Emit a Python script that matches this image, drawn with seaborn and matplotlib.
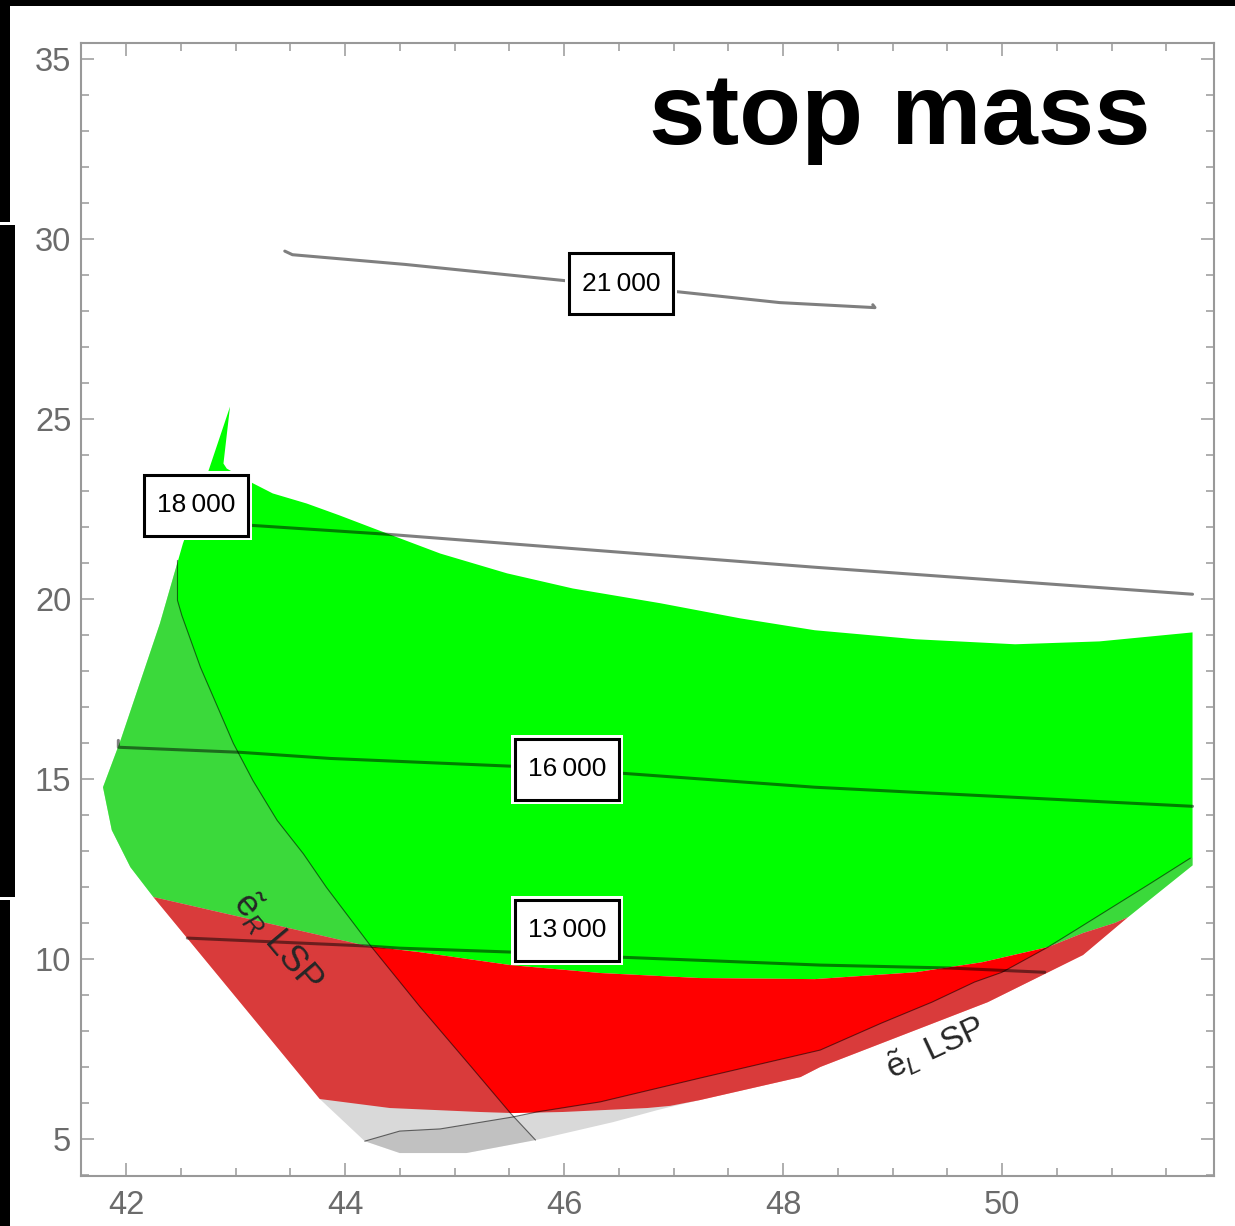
import matplotlib
matplotlib.use("Agg")
import numpy as np
import pandas as pd
import matplotlib.pyplot as plt
from matplotlib.patches import Polygon, Rectangle
from matplotlib.ticker import MultipleLocator
from matplotlib.transforms import IdentityTransform, ScaledTranslation
import seaborn as sns

# ---------------------------------------------------------------- data
# outline of the whole scanned parameter domain
domain_x = [42.95, 42.89, 42.92, 43.16, 43.34, 43.65, 43.95, 44.26, 44.87, 45.48, 46.08,
            46.88, 47.61, 48.29, 49.21, 50.12, 50.89, 51.74, 51.74, 51.15, 50.74,
            49.87, 48.34, 48.16, 47.24, 46.97, 46.85, 46.45, 45.74, 45.11, 44.50,
            44.18, 43.77, 42.25, 42.04, 41.87, 41.79, 41.95, 42.31, 42.52, 42.76]
domain_y = [25.34, 23.76, 23.62, 23.21, 22.93, 22.65, 22.32, 21.96, 21.26, 20.71, 20.29,
            19.88, 19.46, 19.13, 18.88, 18.74, 18.82, 19.07, 12.60, 11.16, 10.11,
            8.80, 7.00, 6.72, 6.08, 5.89, 5.80, 5.47, 4.97, 4.61, 4.61,
            4.94, 6.11, 11.72, 12.55, 13.58, 14.77, 16.07, 19.32, 21.54, 23.62]

# green region
green_x = [42.95, 42.89, 42.92, 43.16, 43.34, 43.65, 43.95, 44.26, 44.87, 45.48, 46.08,
           46.88, 47.61, 48.29, 49.21, 50.12, 50.89, 51.74, 51.74, 51.15, 51.03,
           50.74, 50.42, 49.82, 49.21, 48.29, 47.24, 46.33, 45.51, 44.68, 44.20,
           42.25, 42.04, 41.87, 41.79, 41.95, 42.31, 42.52, 42.76]
green_y = [25.34, 23.76, 23.62, 23.21, 22.93, 22.65, 22.32, 21.96, 21.26, 20.71, 20.29,
           19.88, 19.46, 19.13, 18.88, 18.74, 18.82, 19.07, 12.60, 11.16, 11.00,
           10.72, 10.33, 9.91, 9.63, 9.44, 9.47, 9.61, 9.83, 10.19, 10.36,
           11.72, 12.55, 13.58, 14.77, 16.07, 19.32, 21.54, 23.62]

# red region
red_x = [42.25, 44.20, 44.68, 45.51, 46.33, 47.24, 48.29, 49.21, 49.82, 50.42,
         50.74, 51.03, 51.15, 50.74, 49.87, 48.34, 48.16, 47.24, 46.97, 46.76,
         45.99, 45.53, 45.23, 44.41, 43.77]
red_y = [11.72, 10.36, 10.19, 9.83, 9.61, 9.47, 9.44, 9.63, 9.91, 10.33,
         10.72, 11.00, 11.16, 10.11, 8.80, 7.00, 6.72, 6.08, 5.92, 5.86,
         5.75, 5.72, 5.75, 5.86, 6.11]

# boundary where the right-handed selectron becomes the LSP
eR_x = [42.47, 42.47, 42.51, 42.68, 42.98, 43.16, 43.38, 43.62, 43.83, 44.23, 44.68, 45.14, 45.51, 45.74]
eR_y = [21.07, 19.96, 19.54, 18.10, 15.99, 14.95, 13.85, 12.92, 11.99, 10.38, 8.69, 7.05, 5.72, 4.97]

# boundary where the left-handed selectron becomes the LSP
eL_x = [44.18, 44.50, 44.87, 45.53, 45.75, 46.33, 47.24, 48.34, 48.90, 49.36,
        49.75, 50.00, 50.42, 50.67, 51.33, 51.72]
eL_y = [4.94, 5.22, 5.28, 5.61, 5.75, 6.03, 6.69, 7.47, 8.22, 8.80,
        9.36, 9.63, 10.33, 10.80, 12.05, 12.80]

# stop-mass contours
c21000_x = [43.45, 43.52, 44.55, 46.04, 47.01, 47.97, 48.84, 48.82]
c21000_y = [29.66, 29.56, 29.29, 28.83, 28.54, 28.23, 28.09, 28.17]
c18000_x = [42.60, 43.16, 44.41, 46.88, 48.29, 51.74]
c18000_y = [22.15, 22.04, 21.79, 21.21, 20.88, 20.13]
c16000_x = [41.93, 41.93, 43.04, 43.86, 45.55, 46.52, 48.29, 51.74]
c16000_y = [16.07, 15.88, 15.74, 15.57, 15.35, 15.16, 14.77, 14.24]
c13000_x = [42.56, 44.20, 44.50, 45.53, 46.51, 48.34, 49.51, 50.39]
c13000_y = [10.58, 10.36, 10.30, 10.19, 10.05, 9.83, 9.75, 9.63]

contour_levels = [21000, 18000, 16000, 13000]
label_x = [46.52, 42.64, 46.03, 46.03]
label_y = [28.76, 22.60, 15.27, 10.80]

x_major = [42, 44, 46, 48, 50]
y_major = [5, 10, 15, 20, 25, 30, 35]

# ---------------------------------------------------------------- style
sns.set_theme(style="ticks")
plt.rcParams["font.family"] = ["Liberation Sans", "DejaVu Sans"]
plt.rcParams["mathtext.fontset"] = "custom"
plt.rcParams["mathtext.rm"] = "Liberation Sans"
plt.rcParams["mathtext.it"] = "Liberation Sans:italic"
plt.rcParams["mathtext.bf"] = "Liberation Sans:bold"

W, H = 1235, 1226
fig = plt.figure(figsize=(W / 100, H / 100), dpi=100)
fig.patch.set_facecolor("white")
ax = fig.add_axes([81 / W, 50 / H, 1133 / W, 1133 / H])
ax.set_xlim(41.589, 51.936)
ax.set_ylim(3.972, 35.44)

# regions
ax.fill(green_x, green_y, color="#00ff00", lw=0, zorder=1)
ax.fill(red_x, red_y, color="#ff0000", lw=0, zorder=1)

domain = Polygon(np.column_stack([domain_x, domain_y]), closed=True,
                 fc="none", ec="none", transform=ax.transData)
ax.add_patch(domain)

shade = dict(fc="#9c9c9c", alpha=0.384, ec="none", zorder=2)
eR_shade = Polygon(np.column_stack([[eR_x[0]] + eR_x + [eR_x[-1], 41.0, 41.0],
                                    [30.0] + eR_y + [3.0, 3.0, 30.0]]),
                   closed=True, **shade)
eL_shade = Polygon(np.column_stack([[43.5] + eL_x + [52.5, 52.5, 43.5],
                                    [eL_y[0]] + eL_y + [eL_y[-1], 3.0, 3.0]]),
                   closed=True, **shade)
for p in (eR_shade, eL_shade):
    ax.add_patch(p)
    p.set_clip_path(domain)

# LSP boundaries
lsp = pd.concat([
    pd.DataFrame({"x": eR_x, "y": eR_y, "curve": "eR"}),
    pd.DataFrame({"x": eL_x, "y": eL_y, "curve": "eL"}),
])
sns.lineplot(data=lsp, x="x", y="y", units="curve", estimator=None, sort=False,
             color="black", alpha=0.55, lw=0.8, ax=ax, legend=False, zorder=3)

# contours
contours = pd.concat([
    pd.DataFrame({"x": cx, "y": cy, "level": lev})
    for cx, cy, lev in [(c21000_x, c21000_y, 21000), (c18000_x, c18000_y, 18000),
                        (c16000_x, c16000_y, 16000), (c13000_x, c13000_y, 13000)]
])
sns.lineplot(data=contours, x="x", y="y", units="level", estimator=None, sort=False,
             color="black", alpha=0.5, lw=2.2, ax=ax, legend=False, zorder=4)

# contour labels: framed boxes sized in pixels, anchored at the label point
for lev, lx, ly in zip(contour_levels, label_x, label_y):
    anchor = IdentityTransform() + ScaledTranslation(lx, ly, ax.transData)
    ax.add_patch(Rectangle((-56, -34.5), 112, 69, transform=anchor,
                           fc="white", ec="none", zorder=5))
    ax.add_patch(Rectangle((-52, -30.5), 104, 61, transform=anchor,
                           fc="white", ec="black", lw=2.2, zorder=6))
    txt = f"{lev // 1000}\u2009{lev % 1000:03d}"
    ax.text(lx, ly, txt, fontsize=19, color="black", ha="center", va="center",
            zorder=7)

ax.text(43.39, 10.47, r"$\tilde{\mathrm{e}}_{R}$ LSP", fontsize=26, rotation=-50,
        ha="center", va="center", rotation_mode="anchor", zorder=7)
ax.text(49.39, 7.55, r"$\tilde{\mathrm{e}}_{L}$ LSP", fontsize=24, rotation=25,
        ha="center", va="center", rotation_mode="anchor", zorder=7)

ax.text(46.78, 32.64, "stop mass", fontsize=73, fontweight="bold", color="black",
        ha="left", va="baseline", zorder=7)

# axes frame and ticks
ax.set_xticks(x_major)
ax.set_yticks(y_major)
ax.xaxis.set_minor_locator(MultipleLocator(0.5))
ax.yaxis.set_minor_locator(MultipleLocator(1))
ax.set_xlabel("")
ax.set_ylabel("")
frame = "#999999"
for s in ax.spines.values():
    s.set_color(frame)
    s.set_linewidth(1.5)
ax.tick_params(which="both", direction="in", top=True, right=True, color=frame,
               width=1.1, labelcolor="#6b6b6b", labelsize=23.5)
ax.tick_params(which="major", length=9.4)
ax.tick_params(which="minor", length=5.8)
ax.tick_params(axis="x", pad=10)
ax.tick_params(axis="y", pad=7)

# dark border strips along the figure edge
for (x0, y0, w, h) in [(0, 0, W, 6), (0, 0, 10, 222), (0, 225, 15, 672), (0, 900, 10, 326)]:
    fig.add_artist(Rectangle((x0 / W, 1 - (y0 + h) / H), w / W, h / H,
                             transform=fig.transFigure, color="black", lw=0))

fig.savefig("out.png", dpi=100)
